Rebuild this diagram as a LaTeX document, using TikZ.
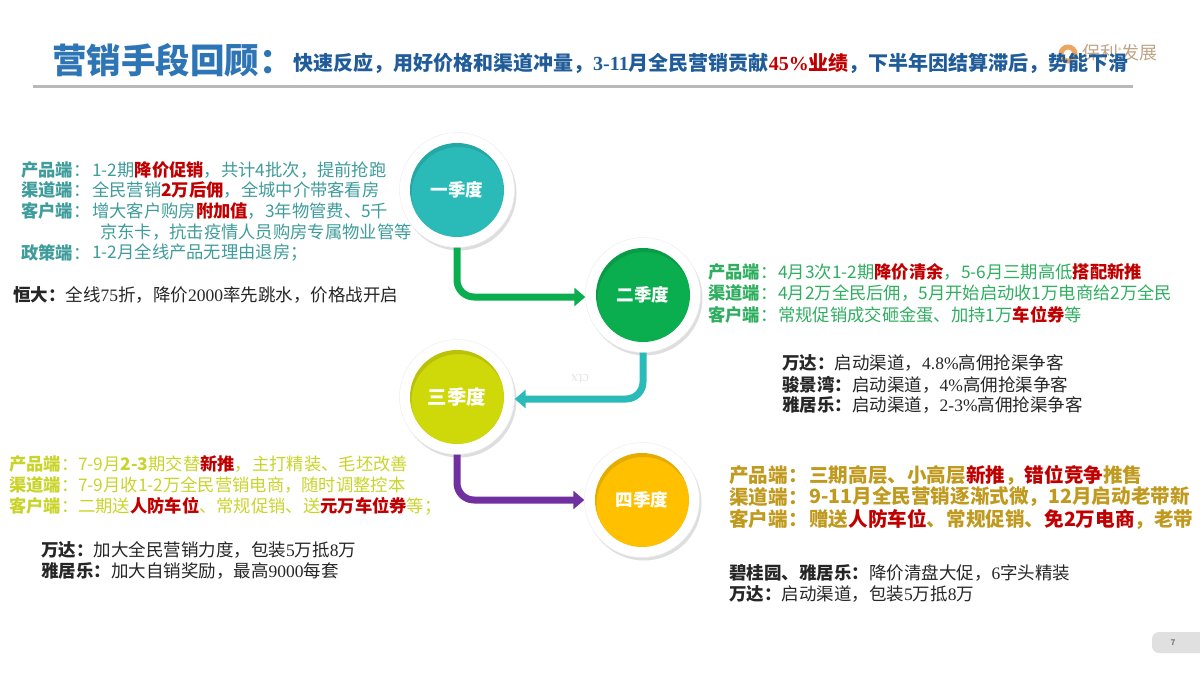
\documentclass[tikz,border=0pt]{standalone}
\usepackage{fontspec}
\setmainfont{Noto Sans CJK SC}
\newfontfamily\numfont{Liberation Serif}
\usepackage{tikz}
\usetikzlibrary{positioning,shadows,arrows.meta}
\newcommand{\hl}[1]{{\bfseries\color{myred}#1}}
\newcommand{\num}[1]{{\numfont #1}}
\newcommand{\dou}{^^^^ff0c}
\newcommand{\mao}{^^^^ff1a}
\newcommand{\fen}{^^^^ff1b}

\begin{document}
\begin{tikzpicture}[x=1pt,y=-1pt]
    \definecolor{myblue}{RGB}{46,117,182}
    \definecolor{mynavy}{RGB}{31,92,153}
    \definecolor{myred}{RGB}{192,0,0}
    \definecolor{myteal}{RGB}{42,187,184}
    \definecolor{mygreen}{RGB}{11,174,79}
    \definecolor{mylime}{RGB}{207,216,9}
    \definecolor{myamber}{RGB}{255,192,0}
    \definecolor{mypurple}{RGB}{112,48,160}
    \definecolor{tealtext}{RGB}{62,156,154}
    \definecolor{greentext}{RGB}{47,174,96}
    \definecolor{limetext}{RGB}{201,212,43}
    \definecolor{ambertext}{RGB}{192,154,31}
    \definecolor{logotext}{RGB}{190,165,135}

    \useasboundingbox (0,0) rectangle (1200,675);

    \tikzstyle{ring}=[circle,fill=white,draw=black!8,thin,minimum size=115pt,inner sep=0pt,
        drop shadow={shadow xshift=2pt,shadow yshift=-3pt,opacity=0.13,fill=black}]
    \tikzstyle{disc}=[circle,minimum size=94pt,inner sep=0pt,text=white,font=\fontsize{17.5}{19}\selectfont\bfseries,
        path picture={\fill[black,opacity=.1,even odd rule] (path picture bounding box.center) circle (47)
            ([shift={(1.5,4)}]path picture bounding box.center) circle (47);}]
    \tikzstyle{flow}=[line width=7pt,rounded corners=17pt,-{Triangle[length=11pt,width=18pt]},
        preaction={draw=black!10,-,transform canvas={shift={(1pt,-3pt)}}}]
    \tikzstyle{line}=[inner sep=0pt,anchor=west,font=\fontsize{17.3}{19}\selectfont]
    \tikzstyle{blackline}=[line,text=black!85,font=\fontsize{17.5}{19}\selectfont]
    \tikzstyle{tealline}=[line,text=tealtext]
    \tikzstyle{greenline}=[line,text=greentext]
    \tikzstyle{limeline}=[line,text=limetext]
    \tikzstyle{amberline}=[line,text=ambertext,font=\fontsize{19.6}{21}\selectfont\bfseries]

    % logo and title
    \node[circle,draw=orange!60!brown!70,line width=5pt,minimum size=14pt,inner sep=0pt](logomark) at (1068,54){};
    \node[line,text=logotext,font=\fontsize{18}{19}\selectfont](logo) at (1082,53){保利\raisebox{6pt}{\fontsize{7}{7}\selectfont ®}发展};
    \node[line,text=myblue,font=\fontsize{34.5}{38}\selectfont\bfseries](title) at (52,60){营销手段回顾\mao{}};
    \node[line,text=mynavy,font=\fontsize{20}{21}\selectfont\bfseries](subtitle) at (293,63){快速反应\dou{}用好价格和渠道冲量\dou{}\num{3-11}月全民营销贡献{\color{myred}\num{45\%}业绩}\dou{}下半年因结算滞后\dou{}势能下滑};
    \coordinate(rulea) at (33,86);
    \coordinate(ruleb) at (1133,86);
    \draw[black!28,line width=3pt](rulea)--(ruleb);

    % 四个季度
    \node[ring](q1) at (457,190){};
    \node[ring](q2) at (643,295){};
    \node[ring](q3) at (457,397){};
    \node[ring](q4) at (642,500){};
    \node[disc,fill=myteal](d1) at (q1){一季度};
    \node[disc,fill=mygreen](d2) at (q2){二季度};
    \node[disc,fill=mylime,font=\fontsize{19.5}{21}\selectfont\bfseries](d3) at (q3){三季度};
    \node[disc,fill=myamber](d4) at (q4){四季度};

    % 开始画线
    \draw[flow,mygreen](q1.south)|-([yshift=-2pt]q2.west);
    \draw[flow,myteal](q2.south)|-([yshift=-2pt]q3.east);
    \draw[flow,mypurple](q3.south)|-(q4.west);
    \node[inner sep=0pt,text=black!10,rotate=180,font=\fontsize{15}{16}\selectfont\numfont](ctx) at (580,379){ctx};

    % 一季度
    \node[tealline](a1) at (21,170){\textbf{产品端}\mao{}};
    \node[tealline](a1v) at (92,170){1-2期\hl{降价促销}\dou{}共计4批次\dou{}提前抢跑};
    \node[tealline](a2) at (21,190){\textbf{渠道端}\mao{}};
    \node[tealline](a2v) at (92,190){全民营销\hl{2万后佣}\dou{}全城中介带客看房};
    \node[tealline](a3) at (21,211){\textbf{客户端}\mao{}};
    \node[tealline](a3v) at (92,211){增大客户购房\hl{附加值}\dou{}3年物管费、5千};
    \node[tealline](a4v) at (100,232){京东卡\dou{}抗击疫情人员购房专属物业管等};
    \node[tealline](a5) at (21,253){\textbf{政策端}\mao{}};
    \node[tealline](a5v) at (92,253){1-2月全线产品无理由退房\fen{}};
    \node[blackline](a6) at (13,295){\textbf{恒大\mao{}}全线\num{75}折\dou{}降价\num{2000}率先跳水\dou{}价格战开启};

    % 二季度
    \node[greenline](b1) at (708,272){\textbf{产品端}\mao{}};
    \node[greenline](b1v) at (778,272){4月3次1-2期\hl{降价清余}\dou{}5-6月三期高低\hl{搭配新推}};
    \node[greenline](b2) at (708,293){\textbf{渠道端}\mao{}};
    \node[greenline](b2v) at (778,293){4月2万全民后佣\dou{}5月开始启动收1万电商给2万全民};
    \node[greenline](b3) at (708,315){\textbf{客户端}\mao{}};
    \node[greenline](b3v) at (778,315){常规促销成交砸金蛋、加持1万\hl{车位券}等};
    \node[blackline](b4) at (782,363){\textbf{万达\mao{}}启动渠道\dou{}\num{4.8\%}高佣抢渠争客};
    \node[blackline](b5) at (782,385){\textbf{骏景湾\mao{}}启动渠道\dou{}\num{4\%}高佣抢渠争客};
    \node[blackline](b6) at (782,405){\textbf{雅居乐\mao{}}启动渠道\dou{}\num{2-3\%}高佣抢渠争客};

    % 三季度
    \node[limeline](c1) at (9,464){\textbf{产品端}\mao{}};
    \node[limeline](c1v) at (78,464){7-9月\textbf{2-3}期交替\hl{新推}\dou{}主打精装、毛坯改善};
    \node[limeline](c2) at (9,485){\textbf{渠道端}\mao{}};
    \node[limeline](c2v) at (78,485){7-9月收1-2万全民营销电商\dou{}随时调整控本};
    \node[limeline](c3) at (9,506){\textbf{客户端}\mao{}};
    \node[limeline](c3v) at (78,506){二期送\hl{人防车位}、常规促销、送\hl{元万车位券}等\fen{}};
    \node[blackline](c4) at (41,550){\textbf{万达\mao{}}加大全民营销力度\dou{}包装\num{5}万抵\num{8}万};
    \node[blackline](c5) at (41,571){\textbf{雅居乐\mao{}}加大自销奖励\dou{}最高\num{9000}每套};

    % 四季度
    \node[amberline](e1) at (729,475){产品端\mao{}};
    \node[amberline](e1v) at (809,475){三期高层、小高层\hl{新推}\dou{}\hl{错位竞争}推售};
    \node[amberline](e2) at (729,497){渠道端\mao{}};
    \node[amberline](e2v) at (809,497){9-11月全民营销逐渐式微\dou{}12月启动老带新};
    \node[amberline](e3) at (729,519){客户端\mao{}};
    \node[amberline](e3v) at (809,519){赠送\hl{人防车位}、常规促销、\hl{免2万电商}\dou{}老带};
    \node[blackline](e4) at (729,573){\textbf{碧桂园、雅居乐\mao{}}降价清盘大促\dou{}\num{6}字头精装};
    \node[blackline](e5) at (729,594){\textbf{万达\mao{}}启动渠道\dou{}包装\num{5}万抵\num{8}万};

    % 页码
    \fill[black!12,rounded corners=7pt](1152,632) rectangle (1215,653);
    \node[inner sep=0pt,text=black!50,font=\fontsize{8}{9}\selectfont\bfseries](page) at (1173,643){7};
\end{tikzpicture}
\end{document}
